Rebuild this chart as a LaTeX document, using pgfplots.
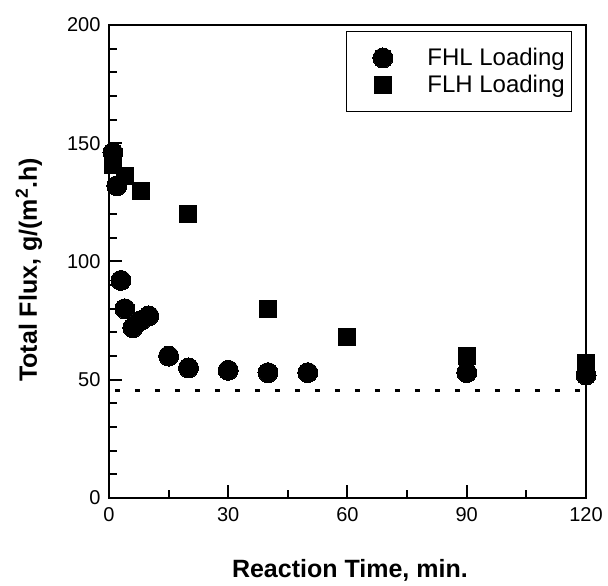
\documentclass[border=0pt]{standalone}
\usepackage{fontspec}
\setmainfont{Liberation Sans}
\usepackage{pgfplots}
\pgfplotsset{compat=1.18}
\begin{document}
\begin{tikzpicture}
\begin{axis}[
  scale only axis,
  width=477pt, height=473pt,
  xmin=0, xmax=120, ymin=0, ymax=200,
  xtick={0,30,60,90,120}, ytick={0,50,100,150,200},
  minor x tick num=1, minor y tick num=4,
  tick pos=left, tick align=inside,
  major tick length=13pt, minor tick length=8pt,
  axis line style={line width=2.5pt},
  every tick/.style={line width=2pt, black},
  /pgf/number format/assume math mode=true,
  ticklabel style={font=\fontsize{20}{22}\selectfont},
  yticklabel style={xshift=-5pt},
  xticklabel style={yshift=-6pt},
  clip=false,
  xlabel={Reaction Time, min.},
  ylabel={Total Flux, g/(m\textsuperscript{2}.h)},
  every axis x label/.style={at={(axis description cs:0.505,-0.169)}, anchor=base, font=\fontsize{25}{28}\selectfont\bfseries},
  every axis y label/.style={at={(axis description cs:-0.151,0.482)}, rotate=90, anchor=base, font=\fontsize{25}{28}\selectfont\bfseries},
  legend style={at={(axis description cs:0.971,0.987)}, anchor=north east,
    draw=black, line width=0.8pt, inner xsep=5pt, inner ysep=13pt,
    column sep=19pt, row sep=0pt,
    font=\fontsize{24}{26}\selectfont,
    nodes={inner ysep=4pt}},
  legend cell align=left,
  legend image code/.code={\path (0pt,0pt) (54pt,0pt);\draw[mark repeat=2,mark phase=2, line width=0pt] plot coordinates {(0pt,0pt) (31pt,0pt) (54pt,0pt)};},
]
\addplot[only marks, mark=*, mark size=10pt, black, mark options={line width=0pt}] coordinates {
(1,146) (2,132) (3,92) (4,80) (6,72) (8,75) (10,77) (15,60) (20,55) (30,54) (40,53) (50,53) (90,53) (120,52)
};
\addlegendentry[mark size=8.5pt]{FHL Loading}
\addplot[only marks, mark=square*, mark size=8.5pt, black, mark options={line width=0pt}] coordinates {
(1,141) (4,136) (8,130) (20,120) (40,80) (60,68) (90,60) (120,57)
};
\addlegendentry[mark size=7.5pt]{FLH Loading}
\addplot[forget plot, black, line width=3.5pt, dash pattern=on 5pt off 15pt, dash phase=-2pt] coordinates {(1,45.5) (120,45.5)};
\end{axis}
\path (current axis.south west) ++(-109pt,-81pt);
\path (current axis.north east) ++(22pt,25pt);
\end{tikzpicture}
\end{document}
